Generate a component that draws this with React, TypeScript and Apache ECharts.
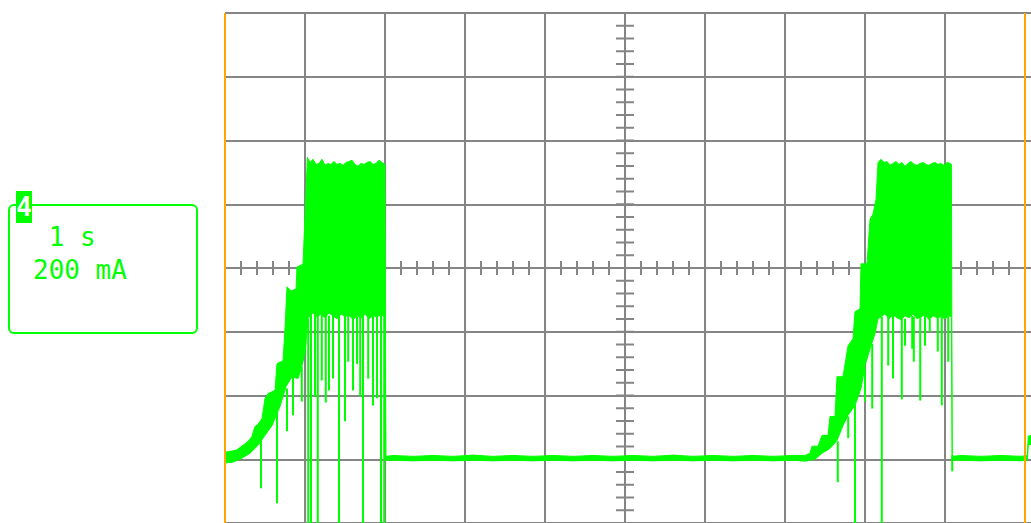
import React, { useEffect, useRef } from "react";
import * as echarts from "echarts";

const upperT = [
  0, 0.138, 0.188, 0.288, 0.338, 0.375, 0.413, 0.463, 0.5, 0.538, 0.625, 0.65, 0.725, 0.75, 0.775, 0.825, 0.888, 0.9, 0.975, 1.0, 1.03,
  1.063, 1.1, 1.138, 1.175, 1.213, 1.25, 1.288, 1.325, 1.363, 1.4, 1.438, 1.475, 1.513, 1.55, 1.588, 1.625, 1.663, 1.7, 1.738, 1.775,
  1.813, 1.85, 1.888, 1.925, 1.963, 2.0, 2.01,
  2.1, 2.35, 2.6, 2.85, 3.1, 3.35, 3.6, 3.85, 4.1, 4.35, 4.6, 4.85, 5.1, 5.35, 5.6, 5.85, 6.1, 6.35, 6.6, 6.85, 7.1, 7.25,
  7.313, 7.338, 7.413, 7.463, 7.538, 7.563, 7.625, 7.65, 7.725, 7.788, 7.85, 7.875, 7.938, 7.95, 8.025, 8.063, 8.1, 8.138, 8.163,
  8.2, 8.238, 8.275, 8.313, 8.35, 8.388, 8.425, 8.463, 8.5, 8.538, 8.575, 8.613, 8.65, 8.688, 8.725, 8.763, 8.8, 8.838, 8.875,
  8.913, 8.95, 8.988, 9.025, 9.063, 9.08, 9.09,
  9.2, 9.45, 9.7, 9.95, 10.03, 10.04, 10.075,
];
const upperMA = [
  22, 28, 37, 56, 72, 103, 109, 128, 191, 206, 216, 300, 309, 409, 541, 528, 534, 603, 612, 762, 947,
  931, 941, 925, 928, 941, 922, 928, 925, 934, 925, 928, 922, 931, 934, 938, 925, 919, 928, 925, 931,
  934, 925, 928, 938, 931, 925, 9,
  12, 9, 12, 9, 13, 9, 12, 9, 12, 9, 12, 9, 12, 9, 13, 9, 12, 9, 12, 9, 12, 12,
  19, 41, 41, 75, 75, 134, 134, 259, 259, 356, 378, 463, 472, 613, 613, 753, 769, 816, 931,
  941, 931, 934, 922, 928, 934, 925, 931, 919, 928, 934, 925, 922, 928, 931, 925, 922, 928, 931,
  925, 928, 922, 931, 928, 925, 9,
  12, 9, 12, 9, 12, 72, 75,
];

// Lower edge of the trace
const lowerT = [
  0, 0.1, 0.188, 0.313, 0.413, 0.5, 0.588, 0.688, 0.763, 0.838, 0.913, 0.963, 1.0, 1.038, 1.075,
  1.1, 1.15, 1.2, 1.25, 1.3, 1.35, 1.4, 1.45, 1.5, 1.55, 1.6, 1.65, 1.7, 1.75, 1.8, 1.85, 1.9, 1.95, 2.0, 2.01,
  2.1, 2.35, 2.6, 2.85, 3.1, 3.35, 3.6, 3.85, 4.1, 4.35, 4.6, 4.85, 5.1, 5.35, 5.6, 5.85, 6.1, 6.35, 6.6, 6.85, 7.1, 7.25,
  7.375, 7.463, 7.563, 7.65, 7.725, 7.788, 7.875, 7.95, 8.0, 8.063, 8.125, 8.163,
  8.2, 8.25, 8.3, 8.35, 8.4, 8.45, 8.5, 8.55, 8.6, 8.65, 8.7, 8.75, 8.8, 8.85, 8.9, 8.95, 9.0, 9.05, 9.08, 9.09,
  9.2, 9.45, 9.7, 9.95, 10.03, 10.04, 10.075,
];
const lowerMA = [
  -12, -9, 0, 19, 44, 75, 106, 166, 228, 259, 253, 294, 331, 441, 456,
  459, 447, 456, 444, 459, 450, 441, 456, 447, 453, 438, 450, 444, 456, 441, 450, 447, 453, 447, -3,
  -3, -5, -3, -5, -3, -5, -3, -5, -3, -5, -3, -5, -3, -5, -3, -5, -3, -5, -3, -5, -3, -6,
  0, 19, 34, 59, 106, 138, 169, 222, 294, 347, 394, 441,
  447, 456, 441, 453, 444, 438, 450, 444, 456, 441, 447, 453, 438, 450, 444, 447, 441, 450, 447, -3,
  -3, -5, -3, -5, -3, 44, 47,
];

// Downward glitches: [time s, from mA, down to mA]
const spikes = [
  [0.45, 62, -91], [0.65, 150, -138], [0.775, 222, 88], [0.85, 262, 138], [0.96, 291, 181],
  [1.04, 441, -210], [1.075, 456, -210], [1.125, 453, 197], [1.16, 453, -210], [1.21, 459, 247],
  [1.26, 459, 178], [1.3, 450, 216], [1.35, 450, 253], [1.425, 459, -210], [1.5, 456, 119],
  [1.54, 453, 306], [1.6, 450, 216], [1.65, 447, 300], [1.69, 450, 197], [1.725, 456, -210],
  [1.79, 453, 253], [1.85, 450, 169], [1.9, 453, 191], [1.95, 456, -210], [1.99, 450, -210],
  [7.66, 56, -72], [7.79, 134, 66], [7.875, 170, -210], [8.0, 284, 181], [8.09, 362, 159],
  [8.21, 447, -210], [8.29, 447, 294], [8.35, 453, 253], [8.46, 441, 188], [8.5, 441, 356],
  [8.59, 450, 347], [8.61, 447, 306], [8.69, 447, 184], [8.75, 453, 356], [8.81, 441, 400],
  [8.91, 447, 338], [8.96, 447, 169], [9.04, 447, 306], [9.09, 12, -38],
];

// Graticule: 1 s / div horizontally, 200 mA / div vertically, 5 minor ticks per div
const xMinorTicks = Array.from({ length: 51 }, (_, i) => i * 0.2);
const yMinorTicks = Array.from({ length: 41 }, (_, i) => -200 + i * 40);
const centerTime = 5;
const centerCurrent = 600;

const channelLabel = "4";
const timeLabel = " 1 s";
const currentLabel = "200 mA";

const GREEN = "#00ff00";
const GRID = "#858585";
const ORANGE = "#ffa500";

export default function App() {
  const ref = useRef<HTMLDivElement>(null);
  useEffect(() => {
    const chart = echarts.init(ref.current!, null, { renderer: "svg" });
    chart.setOption({
      animation: false,
      backgroundColor: "#ffffff",
      grid: { left: 225, top: 13, width: 806, height: 512, show: false },
      xAxis: {
        type: "value",
        min: 0,
        max: 10.075,
        interval: 1,
        axisLine: { show: false },
        axisTick: { show: false },
        axisLabel: { show: false },
        splitLine: { show: true, showMaxLine: false, lineStyle: { color: GRID, width: 2 } },
      },
      yAxis: {
        type: "value",
        min: -200,
        max: 1400,
        interval: 200,
        axisLine: { show: false },
        axisTick: { show: false },
        axisLabel: { show: false },
        splitLine: { show: true, lineStyle: { color: GRID, width: 2 } },
      },
      series: [
        {
          type: "custom",
          name: "xticks",
          silent: true,
          z: 1,
          data: xMinorTicks.map((t) => [t, centerCurrent]),
          encode: { x: 0, y: 1 },
          renderItem: (params: any, api: any) => {
            const p = api.coord([api.value(0), api.value(1)]);
            return {
              type: "line",
              shape: { x1: p[0], y1: p[1] - 7, x2: p[0], y2: p[1] + 7 },
              style: { stroke: GRID, lineWidth: 2 },
            };
          },
        },
        {
          type: "custom",
          name: "yticks",
          silent: true,
          z: 1,
          data: yMinorTicks.map((v) => [centerTime, v]),
          encode: { x: 0, y: 1 },
          renderItem: (params: any, api: any) => {
            const p = api.coord([api.value(0), api.value(1)]);
            return {
              type: "line",
              shape: { x1: p[0] - 9, y1: p[1], x2: p[0] + 9, y2: p[1] },
              style: { stroke: GRID, lineWidth: 2 },
            };
          },
        },
        {
          type: "line",
          name: "markers",
          data: [],
          z: 2,
          markLine: {
            silent: true,
            symbol: "none",
            label: { show: false },
            lineStyle: { color: ORANGE, width: 2, type: "solid" },
            data: [{ xAxis: 0 }, { xAxis: 10 }],
          },
        },
        {
          type: "custom",
          name: "trace",
          silent: true,
          z: 3,
          clip: false,
          data: [[upperT[0], upperMA[0]]],
          encode: { x: 0, y: 1 },
          renderItem: (params: any, api: any) => {
            const pts: number[][] = [];
            for (let i = 0; i < upperT.length; i++) pts.push(api.coord([upperT[i], upperMA[i]]));
            for (let i = lowerT.length - 1; i >= 0; i--) pts.push(api.coord([lowerT[i], lowerMA[i]]));
            return {
              type: "polygon",
              shape: { points: pts },
              style: { fill: GREEN, stroke: GREEN, lineWidth: 1 },
            };
          },
        },
        {
          type: "custom",
          name: "spikes",
          silent: true,
          z: 3,
          clip: false,
          data: spikes,
          encode: { x: 0, y: [1, 2] },
          renderItem: (params: any, api: any) => {
            const a = api.coord([api.value(0), api.value(1)]);
            const b = api.coord([api.value(0), api.value(2)]);
            return {
              type: "line",
              shape: { x1: a[0], y1: a[1], x2: b[0], y2: b[1] },
              style: { stroke: GREEN, lineWidth: 2 },
            };
          },
        },
      ],
      graphic: [
        {
          type: "rect",
          shape: { x: 9, y: 205, width: 188, height: 128, r: 5 },
          style: { fill: "none", stroke: GREEN, lineWidth: 2 },
        },
        {
          type: "rect",
          shape: { x: 16, y: 191, width: 16, height: 32 },
          style: { fill: GREEN },
        },
        {
          type: "text",
          x: 24,
          y: 207,
          style: {
            text: channelLabel,
            fill: "#ffffff",
            font: "bold 26px 'DejaVu Sans Mono'",
            align: "center",
            verticalAlign: "middle",
          },
        },
        {
          type: "text",
          x: 33,
          y: 237,
          style: {
            text: timeLabel,
            fill: GREEN,
            font: "26px 'DejaVu Sans Mono'",
            align: "left",
            verticalAlign: "middle",
          },
        },
        {
          type: "text",
          x: 33,
          y: 270,
          style: {
            text: currentLabel,
            fill: GREEN,
            font: "26px 'DejaVu Sans Mono'",
            align: "left",
            verticalAlign: "middle",
          },
        },
      ],
    });
    return () => chart.dispose();
  }, []);
  return (
    <div
      ref={ref}
      style={{ position: "fixed", left: 0, top: 0, width: 1031, height: 523, background: "#ffffff" }}
    />
  );
}
